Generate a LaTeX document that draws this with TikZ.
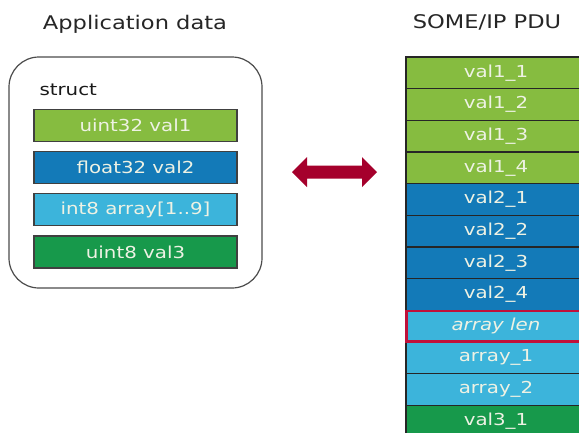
\documentclass[tikz,border=0pt]{standalone}
\usepackage{fontspec}
\setmainfont{DejaVu Sans}[FakeStretch=1.2]
\definecolor{gA}{HTML}{86BC40}
\definecolor{bB}{HTML}{137AB8}
\definecolor{lC}{HTML}{3CB4DB}
\definecolor{gD}{HTML}{17994B}
\definecolor{arr}{HTML}{A5002C}
\definecolor{redb}{HTML}{C0103A}
\definecolor{txt}{HTML}{EEF2E4}
\begin{document}
\begin{tikzpicture}[x=1pt,y=-1pt,
  field/.style={draw=black!75, line width=1.2pt, minimum width=203pt, minimum height=32pt,
    inner sep=0pt, outer sep=0pt, text=txt, font=\fontsize{16.5}{20}\selectfont},
  row/.style={draw=black!85, line width=1.5pt, minimum width=180pt, minimum height=31.67pt,
    inner sep=0pt, outer sep=0pt, anchor=north west, text=txt, font=\fontsize{16.5}{20}\selectfont},
  title/.style={text=black!85, font=\fontsize{18.8}{22}\selectfont}]
\useasboundingbox (0,0) rectangle (579,432);
\clip (0,0) rectangle (579,432);
\fill[white] (0,0) rectangle (579,432);
% left
\node[title] (apptitle) at (135,24) {Application data};
\draw[black!70, line width=1.2pt, rounded corners=30pt] (9,57) rectangle (262,288);
\node[anchor=base west, text=black!90, font=\fontsize{16.5}{20}\selectfont] (struct) at (36,95) {struct};
\node[field, fill=gA] (f1) at (135.5,125.5) {uint32 val1};
\node[field, fill=bB] (f2) at (135.5,167.5) {float32 val2};
\node[field, fill=lC] (f3) at (135.5,209.5) {int8 array[1..9]};
\node[field, fill=gD] (f4) at (135.5,252) {uint8 val3};
% arrow
\fill[arr] (292,172) -- (307,157) -- (307,165.5) -- (362,165.5) -- (362,157) -- (377,172)
  -- (362,187) -- (362,178.5) -- (307,178.5) -- (307,187) -- cycle;
% right
\node[title] (pdutitle) at (487,22) {SOME/IP PDU};
\node[row, fill=gA] (r1) at (406,57) {val1\_1};
\node[row, fill=gA] (r2) at (r1.south west) {val1\_2};
\node[row, fill=gA] (r3) at (r2.south west) {val1\_3};
\node[row, fill=gA] (r4) at (r3.south west) {val1\_4};
\node[row, fill=bB] (r5) at (r4.south west) {val2\_1};
\node[row, fill=bB] (r6) at (r5.south west) {val2\_2};
\node[row, fill=bB] (r7) at (r6.south west) {val2\_3};
\node[row, fill=bB] (r8) at (r7.south west) {val2\_4};
\node[row, fill=lC] (r9) at (r8.south west) {\itshape array len};
\node[row, fill=lC] (r10) at (r9.south west) {array\_1};
\node[row, fill=lC] (r11) at (r10.south west) {array\_2};
\node[row, fill=gD] (r12) at (r11.south west) {val3\_1};
\draw[redb, line width=2.5pt] ([xshift=0.5pt,yshift=-0.5pt]r9.north west) rectangle ([xshift=-0.5pt,yshift=0.5pt]r9.south east);
\end{tikzpicture}
\end{document}
